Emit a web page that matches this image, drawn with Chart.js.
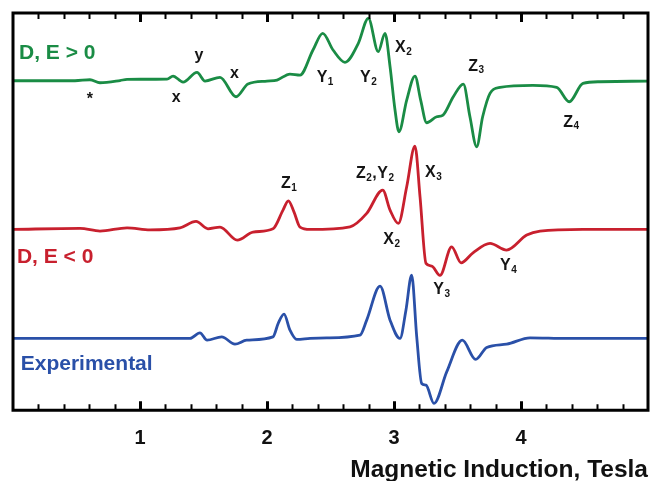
<!DOCTYPE html>
<html><head><meta charset="utf-8">
<script src="https://cdn.jsdelivr.net/npm/chart.js@4"></script>
<style>html,body{margin:0;padding:0;background:#fff;overflow:hidden;width:654px;height:481px}#wrap{position:absolute;left:0;top:0;width:654px;height:481px}canvas{display:block}</style>
</head><body>
<div id="wrap"><canvas id="c"></canvas></div>
<script>
// Magnetic induction (Tesla) and relative EPR signal for each trace
const greenX = [0.000,0.488,0.606,0.685,0.843,0.898,1.213,1.260,1.339,1.449,1.512,1.630,1.756,1.850,2.000,2.079,2.181,2.260,2.362,2.439,2.520,2.614,2.719,2.798,2.876,2.929,2.969,3.008,3.039,3.100,3.165,3.210,3.257,3.336,3.386,3.467,3.546,3.598,3.651,3.698,3.756,3.835,4.094,4.281,4.380,4.488,4.622,5.000];
const greenY = [0,0,1.0,-2.0,0.2,1.4,1.7,4.7,-1.3,8.4,-0.3,3.4,-16.0,-3.3,-0.3,0.7,6.7,5.7,30.7,47.4,30.7,18.4,37.4,62.4,29.0,47.4,14.0,-29.3,-51.0,-19.3,4.7,-19.3,-42.0,-36.0,-34.3,-16.0,-3.3,-36.0,-66.0,-36.0,-12.6,-6.6,-4.6,-6.6,-21.0,-2.6,-1.0,-0.3];

const redX = [0.000,0.528,0.685,0.898,1.079,1.315,1.441,1.535,1.630,1.766,1.890,2.047,2.126,2.168,2.213,2.260,2.339,2.654,2.785,2.911,2.969,3.034,3.100,3.165,3.205,3.252,3.297,3.362,3.454,3.528,3.622,3.756,3.887,4.045,4.150,4.488,5.000];
const redY = [0,1.0,-1.7,1.6,-0.4,1.6,8.0,0.6,2.3,-10.7,-2.7,0.6,19.3,28.6,17.3,2.3,0,2.6,16.0,39.3,19.3,6.0,42.6,83.3,32.6,-34.0,-36.7,-46.0,-17.4,-33.4,-23.4,-14.0,-20.7,-5.7,-1.7,0,0];

const blueX = [0.000,1.394,1.472,1.528,1.643,1.748,1.840,2.047,2.089,2.134,2.181,2.234,2.339,2.470,2.732,2.785,2.890,2.969,3.047,3.094,3.139,3.179,3.218,3.252,3.315,3.415,3.538,3.643,3.730,3.887,4.071,4.360,5.000];
const blueY = [0,0,5.6,-1.7,1.6,-5.7,-1.7,1.6,15.3,24.3,8.3,-1.0,0,0.6,3.3,18.3,52.3,18.3,0,28.3,63.3,1.6,-45.0,-46.7,-65.0,-33.4,-1.7,-21.0,-9.0,-5.7,0.6,0,0];

const seriesNames = ['D, E > 0', 'D, E < 0', 'Experimental'];
const xTickLabels = ['1', '2', '3', '4'];
const xTitle = 'Magnetic Induction, Tesla';

// layout / style (vertical stacking offsets, colours)
const offsets = [329.3, 180.7, 71.7];
const colors = ['#1a8c45', '#c8202e', '#2a50a8'];

// peak annotations: segments, left position (Tesla), height (plot units)
const peakLabels = [
  {seg:[['*']], x:0.580, y:310},
  {seg:[['x']], x:1.250, y:312.3},
  {seg:[['y']], x:1.429, y:354},
  {seg:[['x']], x:1.709, y:336.6},
  {seg:[['Y'],['1',1]], x:2.391, y:332.5},
  {seg:[['Y'],['2',1]], x:2.732, y:332.5},
  {seg:[['X'],['2',1]], x:3.008, y:362.5},
  {seg:[['Z'],['3',1]], x:3.585, y:343.8},
  {seg:[['Z'],['4',1]], x:4.333, y:287.8},
  {seg:[['Z'],['1',1]], x:2.110, y:226.2},
  {seg:[['Z'],['2',1],[','],['Y'],['2',1]], x:2.701, y:236.7},
  {seg:[['X'],['3',1]], x:3.244, y:237.8},
  {seg:[['X'],['2',1]], x:2.916, y:170.8},
  {seg:[['Y'],['3',1]], x:3.309, y:120.3},
  {seg:[['Y'],['4',1]], x:3.835, y:144.2}
];
const seriesLabels = [
  {text: seriesNames[0], x:0.047, y:357},
  {text: seriesNames[1], x:0.031, y:153.3},
  {text: seriesNames[2], x:0.061, y:46}
];

const FONT = '"Liberation Sans", Arial, sans-serif';

function pts(xs, ys, off) { return xs.map((x, i) => ({x: x, y: ys[i] + off})); }

const framePlugin = {
  id: 'frame',
  afterDatasetsDraw(chart) {
    const {ctx, chartArea: a, scales: {x, y}} = chart;
    ctx.save();
    ctx.strokeStyle = '#000';
    ctx.lineWidth = 3;
    ctx.lineCap = 'square';
    ctx.beginPath();
    ctx.moveTo(a.left, a.top); ctx.lineTo(a.right, a.top);
    ctx.lineTo(a.right, a.bottom); ctx.lineTo(a.left, a.bottom); ctx.closePath();
    ctx.stroke();
    ctx.lineCap = 'butt';
    for (let i = 1; i < 25; i++) {
      const v = i * 0.2;
      const px = Math.round(x.getPixelForValue(v)) + 0.5;
      const major = (i % 5 === 0);
      const len = major ? 9 : 6;
      ctx.lineWidth = major ? 3 : 2;
      ctx.beginPath();
      ctx.moveTo(px, a.bottom); ctx.lineTo(px, a.bottom - len);
      ctx.moveTo(px, a.top); ctx.lineTo(px, a.top + len);
      ctx.stroke();
    }
    // series names
    ctx.textBaseline = 'middle';
    ctx.textAlign = 'left';
    ctx.font = 'bold 21px ' + FONT;
    seriesLabels.forEach((l, i) => {
      ctx.fillStyle = colors[i];
      ctx.fillText(l.text, x.getPixelForValue(l.x), y.getPixelForValue(l.y));
    });
    // peak labels
    ctx.fillStyle = '#151515';
    peakLabels.forEach(l => {
      let px = x.getPixelForValue(l.x);
      const py = y.getPixelForValue(l.y);
      l.seg.forEach(s => {
        const sub = s[1] === 1;
        ctx.font = sub ? 'bold 10px ' + FONT : 'bold 16px ' + FONT;
        ctx.fillText(s[0], px, py + (sub ? 4.5 : 0));
        px += ctx.measureText(s[0]).width + 0.5;
      });
    });
    ctx.restore();
  }
};

const ds = [
  pts(greenX, greenY, offsets[0]),
  pts(redX, redY, offsets[1]),
  pts(blueX, blueY, offsets[2])
].map((d, i) => ({
  label: seriesNames[i], data: d, borderColor: colors[i], borderWidth: 2.8,
  pointRadius: 0, fill: false, cubicInterpolationMode: 'monotone', borderJoinStyle: 'round', borderCapStyle: 'round'
}));

const chart = new Chart(document.getElementById('c'), {
  type: 'line',
  data: {datasets: ds},
  options: {
    responsive: true, maintainAspectRatio: false, animation: false, devicePixelRatio: 1,
    layout: {padding: {left: 13, right: 6, top: 13, bottom: 0}},
    plugins: {legend: {display: false}, tooltip: {enabled: false}},
    scales: {
      x: {
        type: 'linear', min: 0, max: 5, offset: false,
        grid: {display: false, drawTicks: true, tickLength: 16},
        border: {display: false},
        ticks: {
          stepSize: 1, padding: 0, color: '#111', maxRotation: 0, autoSkip: false,
          font: {family: FONT, size: 20, weight: 'bold'},
          callback: (v) => (v >= 1 && v <= 4 && Number.isInteger(v)) ? xTickLabels[v - 1] : ''
        },
        title: {
          display: true, text: xTitle, align: 'end', color: '#111',
          font: {family: FONT, size: 24.5, weight: 'bold', lineHeight: 0.85},
          padding: {top: 10, bottom: 0}
        }
      },
      y: {display: false, min: 0, max: 397}
    }
  },
  plugins: [framePlugin]
});
</script>
</body></html>
